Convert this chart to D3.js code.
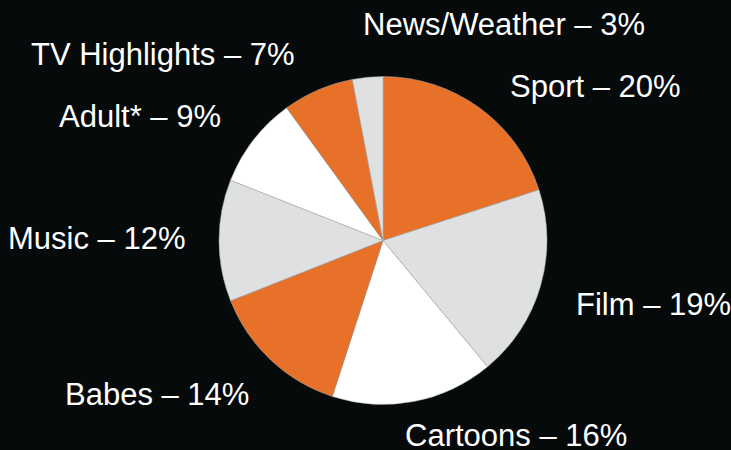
<!DOCTYPE html>
<html>
<head>
<meta charset="utf-8">
<script src="https://cdn.jsdelivr.net/npm/d3@7"></script>
<style>
html,body{margin:0;padding:0;background:#060a0b;}
svg{display:block;}
text{font-family:"Liberation Sans",Arial,Helvetica,sans-serif;fill:#ffffff;}
</style>
</head>
<body>
<svg id="chart" width="731" height="450"></svg>
<script>
const categories = ["Sport","Film","Cartoons","Babes","Music","Adult*","TV Highlights","News/Weather"];
const values = [20,19,16,14,12,9,7,3];
const colors = ["#e87129","#dfe0e2","#ffffff","#e87129","#dfe0e2","#ffffff","#e87129","#dfe0e2"];
// label anchor points (x = left edge, y = baseline)
const labelPos = [[510,97],[576,315],[405,446],[65,405],[8,249],[59,127],[31,65],[363,35]];

const W = 731, H = 450;
const cx = 383, cy = 240.5, r = 164;
const svg = d3.select("#chart");
svg.append("rect").attr("width",W).attr("height",H).attr("fill","#060a0b");

const data = categories.map((c,i)=>({cat:c,value:values[i],color:colors[i],pos:labelPos[i]}));
const pie = d3.pie().value(d=>d.value).sort(null);
const arc = d3.arc().innerRadius(0).outerRadius(r);

const g = svg.append("g").attr("transform",`translate(${cx},${cy})`);
g.selectAll("path").data(pie(data)).join("path")
  .attr("d",arc)
  .attr("fill",d=>d.data.color)
  .attr("stroke","#a8a9ab")
  .attr("stroke-width",0.5);

svg.selectAll("text.lbl").data(data).join("text")
  .attr("class","lbl")
  .attr("x",d=>d.pos[0])
  .attr("y",d=>d.pos[1])
  .attr("font-size",31)
  .text(d=>`${d.cat} \u2013 ${d.value}%`);
</script>
</body>
</html>
